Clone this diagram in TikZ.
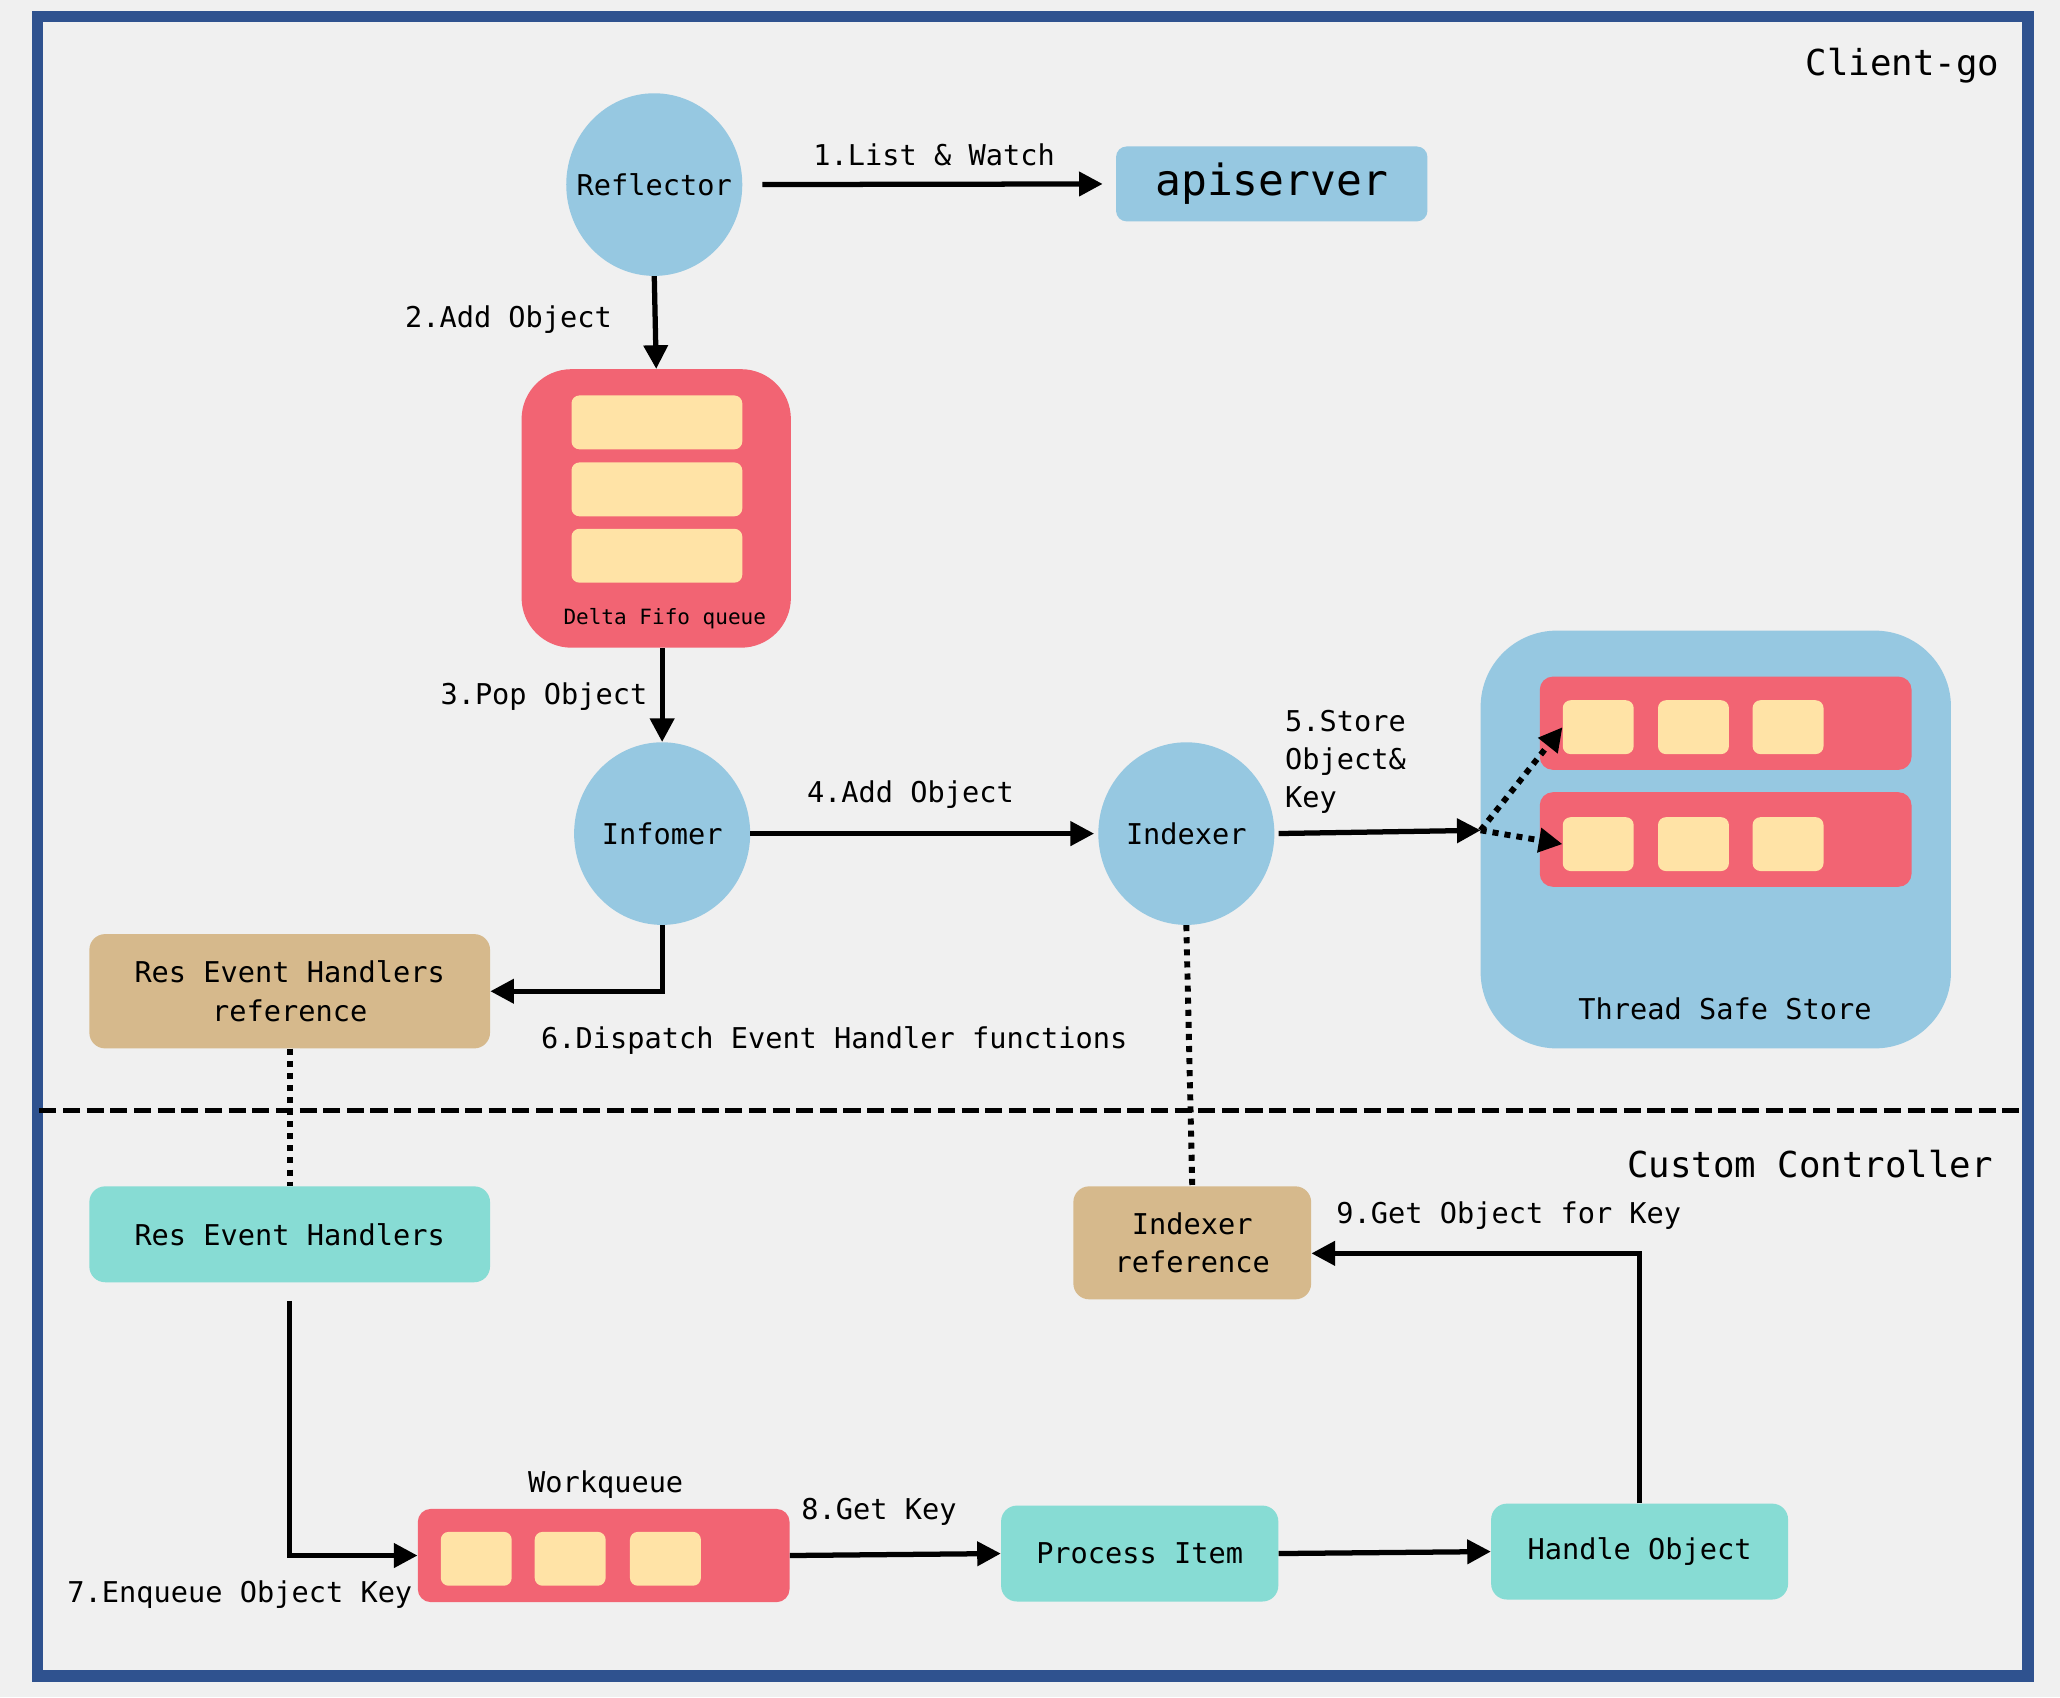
\documentclass[tikz,border=0pt]{standalone}
\usepackage{fontspec}
\setmonofont{DejaVu Sans Mono}
\usetikzlibrary{arrows.meta,calc,positioning,shapes.geometric}

\definecolor{pagebg}{RGB}{240,240,240}
\definecolor{framebl}{RGB}{47,82,143}
\definecolor{cblue}{RGB}{150,200,225}
\definecolor{cred}{RGB}{242,100,115}
\definecolor{cyel}{RGB}{255,227,166}
\definecolor{ctan}{RGB}{214,185,140}
\definecolor{cteal}{RGB}{135,220,212}

\tikzset{
	lbl/.style={font=\ttfamily\fontsize{21.8}{29}\selectfont, inner sep=0pt, align=center},
	big/.style={font=\ttfamily\fontsize{27.2}{32}\selectfont, inner sep=0pt},
	arr/.style={line width=4pt, -{Triangle[length=18pt,width=18pt]}},
	dotln/.style={line width=4.5pt, dash pattern=on 4.6pt off 4.6pt},
	circ/.style={ellipse, fill=cblue, minimum width=134pt, minimum height=139pt, lbl, inner xsep=-14pt, inner ysep=0pt},
	box/.style={rectangle, rounded corners=12pt, inner sep=0pt, lbl},
	cell/.style={rectangle, rounded corners=6pt, fill=cyel, minimum width=54pt, minimum height=41pt, inner sep=0pt},
}

\begin{document}
\begin{tikzpicture}[x=1pt, y=-1pt]
			%%%%% START %%%%%
			
			\fill[pagebg] (0, 0) rectangle (1568, 1292);
			\useasboundingbox (0, 0) rectangle (1568, 1292);
			\draw[framebl, line width=9pt] (28.5, 12.5) rectangle (1543.5, 1275.5);
			\draw[line width=4pt, dash pattern=on 13pt off 5pt] (30, 845) -- (1540, 845);
			
			\node[big, anchor=east] (tclient) at (1522, 50) {Client-go};
			\node[big, anchor=east] (tcustom) at (1517, 886) {Custom Controller};
			
			% client-go part
			\node[circ] (refl) at (498, 140.5) {Reflector};
			\node[box, fill=cblue, rounded corners=8pt, minimum width=237pt, minimum height=57pt, font=\ttfamily\fontsize{32.7}{36}\selectfont] (api) at (968, 140) {\raisebox{-3pt}{apiserver}};
			
			\node[box, fill=cred, rounded corners=38pt, minimum width=205pt, minimum height=212pt] (delta) at (499.5, 387) {};
			\foreach \i/\y in {1/321.5, 2/372.5, 3/423}
				\node[cell, minimum width=130pt] (dq\i) at (500, \y) {};
			\node[font=\ttfamily\fontsize{16}{18}\selectfont, inner sep=0pt] (dlbl) at (506, 471) {Delta Fifo queue};
			
			\node[circ] (inf) at (504, 634.5) {Infomer};
			\node[circ] (idx) at (903, 634.5) {Indexer};
			
			\node[box, fill=cblue, rounded corners=58pt, minimum width=358pt, minimum height=318pt] (tss) at (1306, 639) {};
			\node[box, fill=cred, rounded corners=10pt, minimum width=283pt, minimum height=71pt] (row1) at (1313.5, 550.5) {};
			\node[box, fill=cred, rounded corners=10pt, minimum width=283pt, minimum height=72pt] (row2) at (1313.5, 639) {};
			\foreach \i/\x in {1/1216.5, 2/1289, 3/1361} {
				\node[cell] (sa\i) at (\x, 553.5) {};
				\node[cell] (sb\i) at (\x, 642.5) {};
			}
			\node[lbl] (tsslbl) at (1313, 768) {Thread Safe Store};
			
			\node[box, fill=ctan, minimum width=305pt, minimum height=87pt] (rehr) at (220.5, 754.5) {Res Event Handlers\\reference};
			
			% custom controller part
			\node[box, fill=cteal, minimum width=305pt, minimum height=73pt] (reh) at (220.5, 939.5) {Res Event Handlers};
			\node[box, fill=ctan, minimum width=181pt, minimum height=86pt] (ixr) at (907.5, 946) {Indexer\\reference};
			
			\node[box, fill=cred, rounded corners=10pt, minimum width=283pt, minimum height=71pt] (wq) at (459.5, 1184) {};
			\foreach \i/\x in {1/362.5, 2/434, 3/506.5}
				\node[cell] (wc\i) at (\x, 1186.5) {};
			\node[lbl] (wqlbl) at (461, 1130) {Workqueue};
			
			\node[box, fill=cteal, minimum width=211pt, minimum height=73pt] (proc) at (867.5, 1182.5) {Process Item};
			\node[box, fill=cteal, minimum width=226pt, minimum height=73pt] (hand) at (1248, 1181) {Handle Object};
			
			% arrows
			\draw[arr, shorten <=15pt, shorten >=10pt] (refl.east) -- (api.west);
			\draw[arr] (refl.south) -- (delta.north);
			\draw[arr] (delta.south -| inf) -- (inf.north);
			\draw[arr, shorten >=3pt] (inf.east) -- (idx.west);
			\coordinate (fork) at (1127, 632);
			\draw[arr, shorten <=3pt] (idx.east) -- (fork);
			\draw[dotln, -{Triangle[length=18pt,width=18pt]}] (fork) -- (sa1.west);
			\draw[dotln, -{Triangle[length=18pt,width=18pt]}] (fork) -- (sb1.west);
			\draw[arr] (inf.south) |- (rehr.east);
			
			\draw[dotln] (rehr.south) -- (reh.north);
			\draw[dotln] (idx.south) -- (ixr.north);
			
			\draw[arr, shorten <=14pt] (reh.south) |- (wq.west);
			\draw[arr] (wq.east) -- (proc.west);
			\draw[arr] (proc.east) -- (hand.west);
			\draw[arr] (hand.north) |- ($(ixr.east)+(0, 8)$);
			
			% labels
			\node[lbl] (l1) at (711, 118) {1.List \& Watch};
			\node[lbl, anchor=east] (l2) at (466, 243) {2.Add Object};
			\node[lbl, anchor=east] (l3) at (493, 530) {3.Pop Object};
			\node[lbl] (l4) at (693, 605) {4.Add Object};
			\node[lbl, anchor=west, align=left] (l5) at (978, 580) {5.Store\\Object\&\\Key};
			\node[lbl] (l6) at (635, 792) {6.Dispatch Event Handler functions};
			\node[lbl, anchor=east] (l7) at (314, 1214) {7.Enqueue Object Key};
			\node[lbl] (l8) at (669, 1151) {8.Get Key};
			\node[lbl, anchor=west] (l9) at (1017, 925) {9.Get Object for Key};
			
			%%%%% END %%%%%
\end{tikzpicture}
\end{document}
